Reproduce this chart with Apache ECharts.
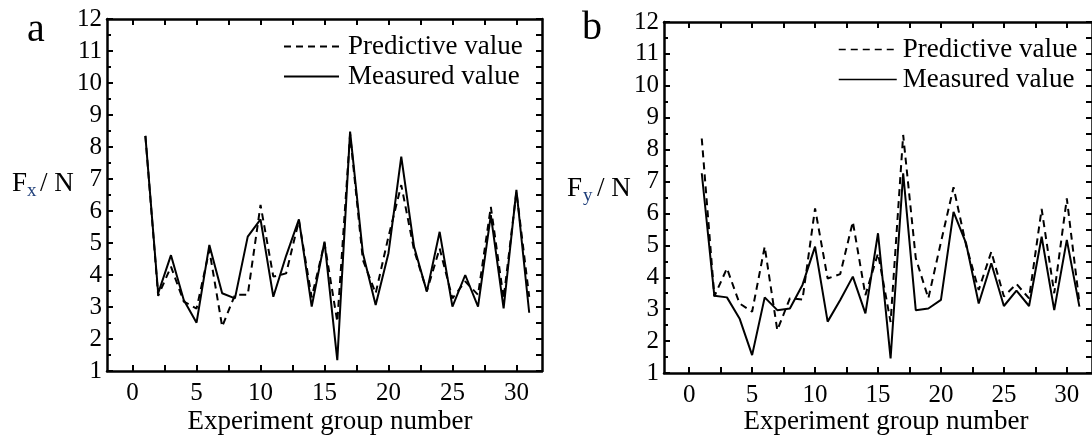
<!DOCTYPE html>
<html>
<head>
<meta charset="utf-8">
<script src="https://cdn.jsdelivr.net/npm/echarts@6/dist/echarts.min.js"></script>
<style>
html,body{margin:0;padding:0;background:#fff;}
#chart{width:1092px;height:437px;}
</style>
</head>
<body>
<div id="chart"></div>
<script>
// ---- data ----
const groups = [1,2,3,4,5,6,7,8,9,10,11,12,13,14,15,16,17,18,19,20,21,22,23,24,25,26,27,28,29,30,31];
const aPredicted = [8.35,3.35,4.26,3.17,2.95,4.78,2.39,3.38,3.38,6.19,3.95,4.05,5.7,3.3,5.0,2.54,8.4,4.47,3.43,5.2,6.81,4.78,3.5,4.83,3.27,3.8,3.38,6.13,3.27,6.6,3.32];
const aMeasured  = [8.35,3.43,4.62,3.22,2.51,4.94,3.43,3.27,5.2,5.74,3.32,4.6,5.74,3.01,5.04,1.34,8.48,4.68,3.06,4.68,7.7,4.88,3.48,5.35,3.01,4.0,3.01,5.87,2.96,6.66,2.82];
const bPredicted = [8.35,3.4,4.28,3.18,2.92,4.96,2.34,3.34,3.3,6.16,3.96,4.1,5.74,3.44,4.75,2.6,8.46,4.6,3.34,5.1,6.82,5.0,3.6,4.8,3.4,3.79,3.34,6.14,3.5,6.47,3.2];
const bMeasured  = [7.26,3.42,3.37,2.71,1.56,3.37,2.97,3.02,3.76,4.96,2.61,3.29,4.02,2.87,5.38,1.46,7.26,2.97,3.02,3.29,6.05,5.06,3.18,4.44,3.1,3.58,3.1,5.27,2.97,5.17,3.08];
const xTickLabels = [0,5,10,15,20,25,30];
const xTickMarks = [0,2.5,5,7.5,10,12.5,15,17.5,20,22.5,25,27.5,30];
const seriesNames = ['Predictive value','Measured value'];
const xAxisTitle = 'Experiment group number';

// ---- chart ----
const FONT = '"Liberation Serif","Times New Roman",serif';
const pairs = (xs, ys) => xs.map((x, i) => [x, ys[i]]);

function xAxisDef(grid, pos) {
  return {
    type: 'value', gridIndex: grid, position: pos, min: -2, max: 32,
    axisLine: { show: true, onZero: false, lineStyle: { color: '#000', width: 2.5 } },
    axisTick: { show: true, inside: true, length: 6, customValues: xTickMarks, lineStyle: { color: '#000', width: 2 } },
    axisLabel: { show: pos === 'bottom', customValues: xTickLabels, fontFamily: FONT, fontSize: 25, color: '#000', margin: 10 },
    splitLine: { show: false }
  };
}
function yAxisDef(grid, pos) {
  return {
    type: 'value', gridIndex: grid, position: pos, min: 1, max: 12, interval: 1,
    axisLine: { show: true, onZero: false, lineStyle: { color: '#000', width: 2.5 } },
    axisTick: { show: true, inside: true, length: 6, lineStyle: { color: '#000', width: 2 } },
    minorTick: { show: true, splitNumber: 2, length: pos === 'left' ? 4 : 6, lineStyle: { color: '#000', width: 2 } },
    axisLabel: { show: pos === 'left', fontFamily: FONT, fontSize: 25, color: '#000', margin: 5 },
    splitLine: { show: false }, minorSplitLine: { show: false }
  };
}
function lineSeries(name, xi, yi, data, dashed) {
  return {
    type: 'line', name: name, xAxisIndex: xi, yAxisIndex: yi, data: data,
    symbol: 'none', showSymbol: false, silent: true,
    itemStyle: { color: '#000' },
    lineStyle: { color: '#000', width: 2, type: dashed ? [7, 5] : 'solid' },
    z: dashed ? 3 : 2
  };
}
function legendDef(left, top, w, lineW, pad) {
  return {
    show: true,
    data: seriesNames.map(n => ({ name: n })),
    left: left, top: top, orient: 'vertical',
    itemWidth: w, itemHeight: 14, itemGap: 3, selectedMode: false,
    itemStyle: { opacity: 0 },
    lineStyle: { width: lineW },
    textStyle: { fontFamily: FONT, fontSize: 27, color: '#000', padding: [0, 0, 0, pad] }
  };
}
function txt(x, y, s, size, color) {
  return { type: 'text', x: x, y: y, silent: true,
    style: { text: s, font: size + 'px ' + FONT, fill: color || '#000', verticalAlign: 'middle', textVerticalAlign: 'middle', align: 'left', textAlign: 'left' } };
}
function ctxt(x, y, s, size) {
  return { type: 'text', x: x, y: y, silent: true,
    style: { text: s, font: size + 'px ' + FONT, fill: '#000', verticalAlign: 'middle', textVerticalAlign: 'middle', align: 'center', textAlign: 'center' } };
}

const option = {
  animation: false,
  backgroundColor: '#fff',
  grid: [
    { left: 107, top: 19, width: 435, height: 352 },
    { left: 664, top: 22, width: 435, height: 351 }
  ],
  xAxis: [xAxisDef(0, 'bottom'), xAxisDef(0, 'top'), xAxisDef(1, 'bottom'), xAxisDef(1, 'top')],
  yAxis: [yAxisDef(0, 'left'), yAxisDef(0, 'right'), yAxisDef(1, 'left'), yAxisDef(1, 'right')],
  legend: [legendDef(278, 28, 55, 2, 4), legendDef(833, 31, 58, 1.5, 1)],
  series: [
    lineSeries(seriesNames[0], 0, 0, pairs(groups, aPredicted), true),
    lineSeries(seriesNames[1], 0, 0, pairs(groups, aMeasured), false),
    lineSeries(seriesNames[0], 2, 2, pairs(groups, bPredicted), true),
    lineSeries(seriesNames[1], 2, 2, pairs(groups, bMeasured), false)
  ],
  graphic: [
    txt(27, 30, 'a', 40),
    txt(582, 28, 'b', 40),
    txt(12, 184, 'F', 27),
    txt(27, 191, 'x', 19, '#1f3f7a'),
    txt(40, 184, '/ N', 27),
    txt(567, 189, 'F', 27),
    txt(583, 196, 'y', 19, '#1f3f7a'),
    txt(597, 189, '/ N', 27),
    ctxt(330, 422, xAxisTitle, 27),
    ctxt(886, 422, xAxisTitle, 27)
  ]
};
const chart = echarts.init(document.getElementById('chart'), null, { renderer: 'canvas' });
chart.setOption(option);
</script>
</body>
</html>
